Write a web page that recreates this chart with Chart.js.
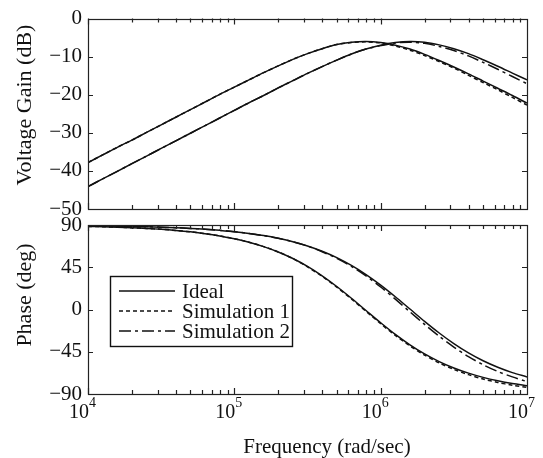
<!DOCTYPE html>
<html>
<head>
<meta charset="utf-8">
<script src="https://cdn.jsdelivr.net/npm/chart.js@4.4.1/dist/chart.umd.min.js"></script>
<style>
  html, body { margin: 0; padding: 0; background: #fff; }
  #wrap { position: relative; width: 543px; height: 458px; }
  #gainBox { position: absolute; left: 0; top: 0; width: 543px; height: 230px; }
  #phaseBox { position: absolute; left: 0; top: 205px; width: 543px; height: 253px; }
</style>
</head>
<body>
<div id="wrap">
  <div id="gainBox"><canvas id="gain"></canvas></div>
  <div id="phaseBox"><canvas id="phase"></canvas></div>
</div>
<script>
// frequency points (rad/sec), 10 per decade
var freq = [1e4, 1.259e4, 1.585e4, 1.995e4, 2.512e4, 3.162e4, 3.981e4, 5.012e4, 6.310e4, 7.943e4,
            1e5, 1.259e5, 1.585e5, 1.995e5, 2.512e5, 3.162e5, 3.981e5, 5.012e5, 6.310e5, 7.943e5,
            1e6, 1.259e6, 1.585e6, 1.995e6, 2.512e6, 3.162e6, 3.981e6, 5.012e6, 6.310e6, 7.943e6, 1e7];

// voltage gain (dB)
var gainIdealA = [-37.8, -35.8, -33.8, -31.9, -29.9, -27.9, -25.9, -23.9, -21.9, -19.9,
                  -18.0, -16.1, -14.2, -12.4, -10.7, -9.2, -7.9, -6.8, -6.2, -6.0,
                  -6.3, -7.0, -8.0, -9.4, -11.0, -12.7, -14.5, -16.4, -18.3, -20.2, -22.2];
var gainSim1   = [-37.8, -35.8, -33.8, -31.9, -29.9, -27.9, -25.9, -23.9, -21.9, -19.9,
                  -18.0, -16.1, -14.2, -12.4, -10.7, -9.2, -7.9, -6.8, -6.3, -6.1,
                  -6.4, -7.2, -8.3, -9.7, -11.3, -13.0, -14.9, -16.8, -18.7, -20.7, -22.7];
var gainIdealB = [-44.1, -42.1, -40.1, -38.1, -36.1, -34.1, -32.1, -30.1, -28.1, -26.1,
                  -24.1, -22.1, -20.2, -18.2, -16.3, -14.4, -12.6, -10.9, -9.3, -8.0,
                  -7.0, -6.3, -6.0, -6.2, -6.9, -7.9, -9.2, -10.8, -12.5, -14.3, -16.1];
var gainSim2   = [-44.1, -42.1, -40.1, -38.1, -36.1, -34.1, -32.1, -30.1, -28.1, -26.1,
                  -24.1, -22.1, -20.2, -18.2, -16.3, -14.4, -12.6, -10.9, -9.3, -8.0,
                  -7.1, -6.4, -6.2, -6.5, -7.3, -8.4, -9.8, -11.5, -13.3, -15.2, -17.1];

// phase (deg)
var phaseIdealA = [88.5, 88.2, 87.7, 87.1, 86.3, 85.4, 84.2, 82.7, 80.8, 78.4,
                   75.4, 71.7, 67.0, 61.3, 54.3, 45.9, 35.9, 24.5, 12.0, -1.1,
                   -14.1, -26.5, -37.6, -47.3, -55.5, -62.3, -67.8, -72.3, -75.9, -78.8, -81.1];
var phaseSim1   = [88.5, 88.2, 87.7, 87.1, 86.3, 85.4, 84.2, 82.7, 80.8, 78.4,
                   75.4, 71.7, 67.0, 61.3, 54.3, 45.4, 35.3, 23.8, 11.2, -2.0,
                   -15.1, -27.6, -38.8, -48.6, -56.9, -63.8, -69.4, -74.0, -77.7, -80.6, -83.0];
var phaseIdealB = [89.3, 89.1, 88.9, 88.6, 88.2, 87.7, 87.2, 86.4, 85.5, 84.3,
                   82.9, 81.0, 78.7, 75.8, 72.2, 67.6, 62.0, 55.2, 46.9, 37.2,
                   26.0, 13.6, 0.5, -12.6, -25.0, -36.3, -46.2, -54.6, -61.5, -67.2, -71.8];
var phaseSim2   = [89.3, 89.1, 88.9, 88.6, 88.2, 87.7, 87.2, 86.4, 85.5, 84.3,
                   82.9, 81.0, 78.7, 75.8, 72.2, 67.6, 61.5, 54.5, 45.9, 35.7,
                   24.0, 11.1, -2.5, -15.8, -28.5, -40.0, -50.2, -58.8, -66.0, -71.8, -76.8];

// axis labels
var xTickValues = [1e4, 1e5, 1e6, 1e7];
var xTickExps = ['4', '5', '6', '7'];
var seriesNames = ['Ideal', 'Simulation 1', 'Simulation 2'];

var SERIF = '"Liberation Serif", "Times New Roman", serif';
var INK = '#111';

function pts(arr) {
  return freq.map(function (f, i) { return { x: f, y: arr[i] }; });
}

function line(label, arr, dash, order) {
  return {
    label: label,
    data: pts(arr),
    borderColor: INK,
    borderWidth: 1.5,
    borderDash: dash,
    pointRadius: 0,
    tension: 0.3,
    fill: false,
    order: order
  };
}

var dashSim1 = [4, 3];
var dashSim2 = [12, 4, 3, 4];

function framePlugin(extra) {
  return {
    id: 'frame',
    afterDraw: function (chart) {
      var ctx = chart.ctx, a = chart.chartArea, xs = chart.scales.x, ys = chart.scales.y;
      ctx.save();
      ctx.strokeStyle = '#222';
      ctx.lineWidth = 1.2;
      ctx.strokeRect(Math.round(a.left) + 0.5, Math.round(a.top) + 0.5,
                     Math.round(a.right - a.left), Math.round(a.bottom - a.top));
      ctx.beginPath();
      // log ticks on top and bottom, inside
      for (var d = 4; d < 7; d++) {
        for (var m = 1; m < 10; m++) {
          var px = Math.round(xs.getPixelForValue(m * Math.pow(10, d))) + 0.5;
          var len = m === 1 ? 6 : 4;
          ctx.moveTo(px, a.bottom); ctx.lineTo(px, a.bottom - len);
          ctx.moveTo(px, a.top); ctx.lineTo(px, a.top + len);
        }
      }
      // value ticks on left and right, inside
      ys.ticks.forEach(function (t) {
        var py = Math.round(ys.getPixelForValue(t.value)) + 0.5;
        ctx.moveTo(a.left, py); ctx.lineTo(a.left + 5, py);
        ctx.moveTo(a.right, py); ctx.lineTo(a.right - 5, py);
      });
      ctx.stroke();

      // y title
      ctx.fillStyle = INK;
      ctx.font = '22px ' + SERIF;
      ctx.textAlign = 'center';
      ctx.textBaseline = 'middle';
      ctx.save();
      ctx.translate(25, extra.titleY);
      ctx.rotate(-Math.PI / 2);
      ctx.fillText(extra.title, 0, 0);
      ctx.restore();

      if (extra.bottom) {
        // decade labels with superscript
        xTickValues.forEach(function (v, i) {
          var px = xs.getPixelForValue(v);
          ctx.font = '20px ' + SERIF;
          ctx.textAlign = 'right';
          ctx.fillText('10', px + 1, a.bottom + 19);
          ctx.font = '14px ' + SERIF;
          ctx.textAlign = 'left';
          ctx.fillText(xTickExps[i], px + 1, a.bottom + 9);
        });
        ctx.font = '21px ' + SERIF;
        ctx.textAlign = 'center';
        ctx.fillText('Frequency (rad/sec)', 327, a.bottom + 53);

        // legend box
        var bx = 110, by = 71, bw = 182, bh = 70;
        ctx.fillStyle = '#fff';
        ctx.fillRect(bx, by, bw, bh);
        ctx.strokeStyle = INK;
        ctx.lineWidth = 1.4;
        ctx.strokeRect(bx + 0.5, by + 0.5, bw, bh);
        var seen = {};
        var items = chart.data.datasets.filter(function (ds) {
          if (seen[ds.label]) return false;
          seen[ds.label] = true; return true;
        });
        seriesNames.forEach(function (name, i) {
          var ds = items.filter(function (d) { return d.label === name; })[0];
          var ly = by + 15 + i * 20;
          ctx.beginPath();
          ctx.setLineDash(ds.borderDash || []);
          ctx.lineWidth = 1.4;
          ctx.moveTo(bx + 9, ly); ctx.lineTo(bx + 65, ly);
          ctx.stroke();
          ctx.setLineDash([]);
          ctx.fillStyle = INK;
          ctx.font = '21px ' + SERIF;
          ctx.textAlign = 'left';
          ctx.fillText(name, bx + 72, ly + 1);
        });
      }
      ctx.restore();
    }
  };
}

function makeOptions(yMin, yMax, step, pad) {
  return {
    responsive: true,
    maintainAspectRatio: false,
    animation: false,
    layout: { padding: pad },
    plugins: { legend: { display: false }, tooltip: { enabled: false } },
    scales: {
      x: { type: 'logarithmic', min: 1e4, max: 1e7, display: false },
      y: {
        min: yMin, max: yMax,
        grid: { display: false, drawTicks: false },
        border: { display: false },
        afterFit: function (s) { s.width = 88; },
        ticks: {
          stepSize: step,
          padding: 6,
          color: INK,
          font: { family: SERIF, size: 21 },
          callback: function (v) { return v < 0 ? '\u2212' + Math.abs(v) : String(v); }
        }
      }
    }
  };
}

new Chart('gain', {
  type: 'line',
  data: {
    datasets: [
      line('Simulation 1', gainSim1, dashSim1, 0),
      line('Simulation 2', gainSim2, dashSim2, 0),
      line('Ideal', gainIdealA, [], 1),
      line('Ideal', gainIdealB, [], 1)
    ]
  },
  options: makeOptions(-50, 0, 10, { top: 15, right: 16, bottom: 21, left: 0 }),
  plugins: [framePlugin({ title: 'Voltage Gain (dB)', titleY: 105, bottom: false })]
});

new Chart('phase', {
  type: 'line',
  data: {
    datasets: [
      line('Simulation 1', phaseSim1, dashSim1, 0),
      line('Simulation 2', phaseSim2, dashSim2, 0),
      line('Ideal', phaseIdealA, [], 1),
      line('Ideal', phaseIdealB, [], 1)
    ]
  },
  options: makeOptions(-90, 90, 45, { top: 20, right: 16, bottom: 64, left: 0 }),
  plugins: [framePlugin({ title: 'Phase (deg)', titleY: 90, bottom: true })]
});
</script>
</body>
</html>
